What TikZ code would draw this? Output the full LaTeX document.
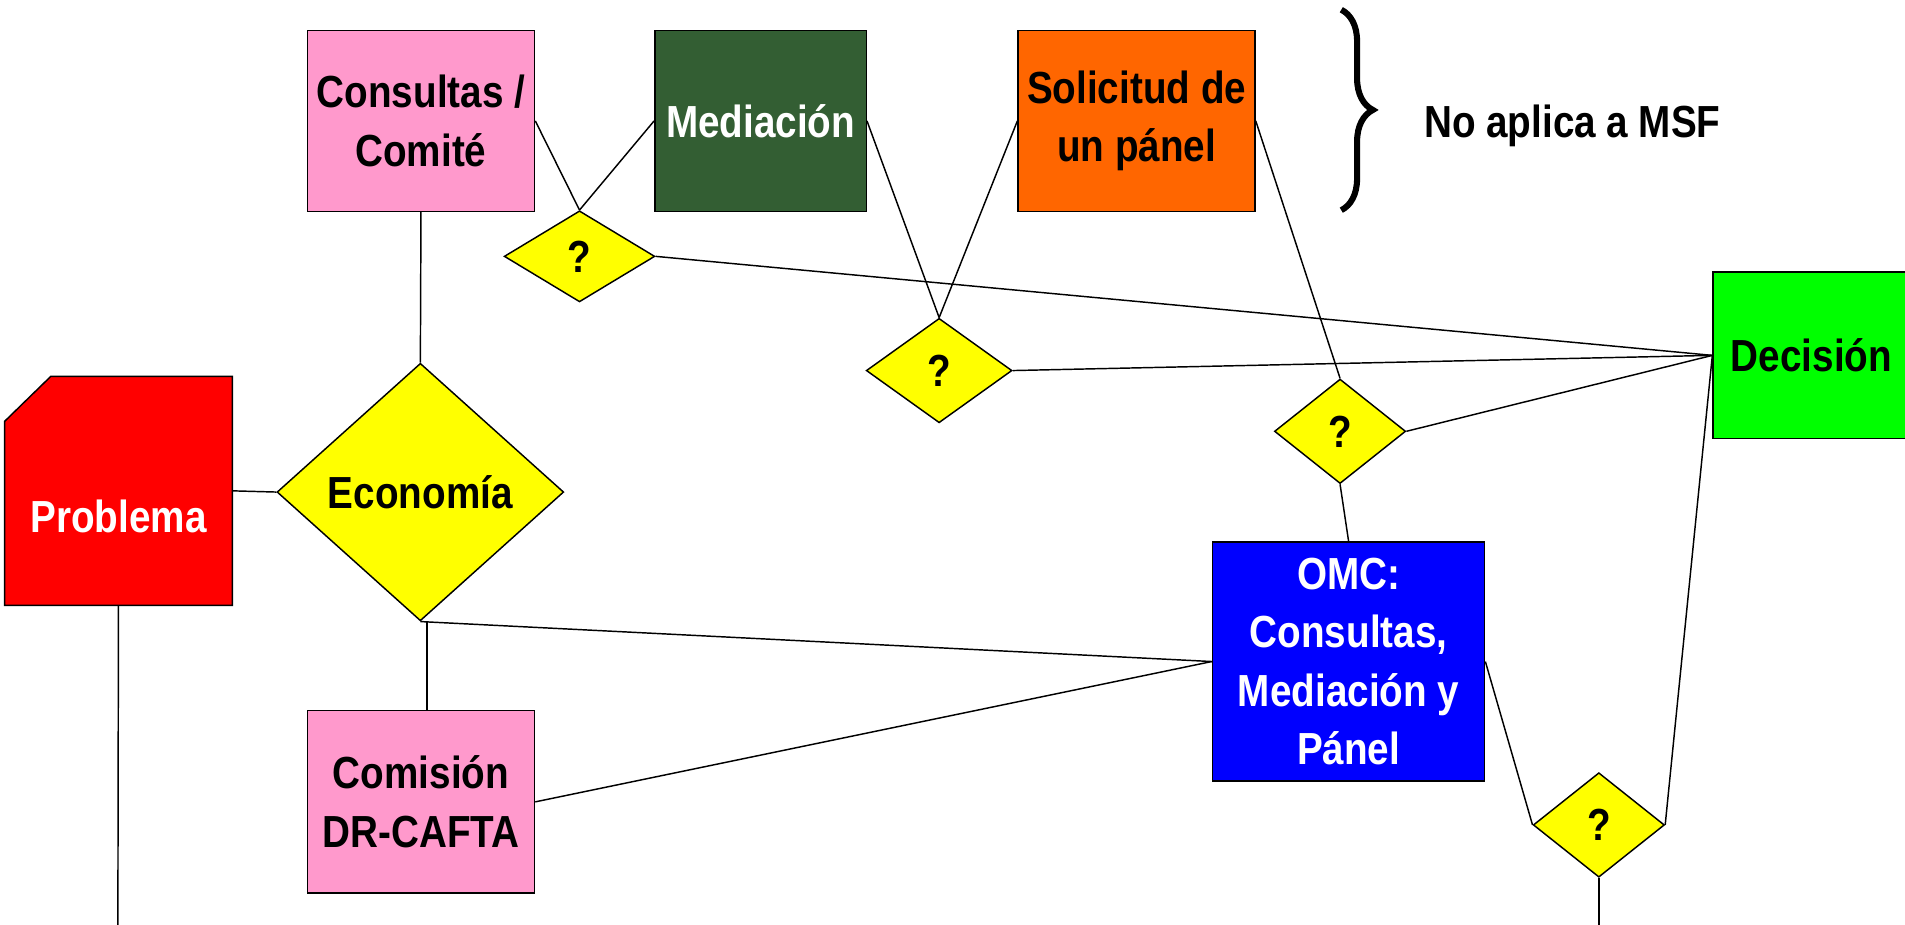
\documentclass[tikz,border=0pt]{standalone}
\usepackage{fontspec}
\setmainfont{Liberation Sans}[FakeStretch=0.86]
\usetikzlibrary{shapes.geometric,decorations.pathreplacing}
\definecolor{pinkbox}{RGB}{255,153,204}
\definecolor{darkgreen}{RGB}{51,94,51}
\definecolor{orangebox}{RGB}{255,102,0}
\definecolor{greenbox}{RGB}{0,255,0}
\definecolor{bluebox}{RGB}{0,0,255}
\definecolor{redbox}{RGB}{255,0,0}
\definecolor{yellowbox}{RGB}{255,255,0}
\begin{document}
\begin{tikzpicture}[x=1pt,y=-1pt,
  every node/.style={font=\fontsize{37}{48}\selectfont\bfseries, align=center, inner sep=0pt},
  box/.style={draw=black, line width=1.2pt, rectangle},
  qbox/.style={draw=black, line width=1.2pt, fill=yellowbox, diamond},
  conn/.style={line width=1.2pt}]
\useasboundingbox (0,0) rectangle (1568,761);

% boxes
\node[box, fill=pinkbox, minimum width=187pt, minimum height=149pt] (cons) at (346.5,99.5) {Consultas /\\Comité};
\node[box, fill=darkgreen, text=white, minimum width=174pt, minimum height=149pt] (med) at (626,99.5) {Mediación};
\node[box, fill=orangebox, minimum width=195pt, minimum height=149pt] (sol) at (935.5,99.5) {Solicitud de\\un pánel};
\node[box, fill=greenbox, minimum width=162pt, minimum height=137pt] (dec) at (1491,292.5) {Decisión};
\node[box, fill=bluebox, text=white, minimum width=224pt, minimum height=197pt] (omc) at (1110,544.5) {OMC:\\Consultas,\\Mediación y\\Pánel};
\node[box, fill=pinkbox, minimum width=187pt, minimum height=150pt] (com) at (346.5,660) {Comisión\\DR-CAFTA};

% problem box with cut corner
\node[minimum width=187pt, minimum height=188pt] (prob) at (97.5,404) {};
\filldraw[fill=redbox, line width=1.2pt] (prob.south west) -- (prob.south east) -- (prob.north east)
  -- ([xshift=38pt]prob.north west) -- ([yshift=-37pt]prob.north west) -- cycle;
\node[text=white] (problabel) at ([yshift=-21pt]prob.center) {Problema};

% diamonds
\node[qbox, minimum width=236pt, minimum height=212pt] (econ) at (346,405) {Economía};
\node[qbox, minimum width=124pt, minimum height=75pt] (q1) at (477,211) {?};
\node[qbox, minimum width=120pt, minimum height=86pt] (q2) at (773,305) {?};
\node[qbox, minimum width=108pt, minimum height=86pt] (q3) at (1103,355) {?};
\node[qbox, minimum width=108pt, minimum height=86pt] (q4) at (1316,679) {?};

% brace and note
\coordinate (bt) at (1104,8);
\coordinate (bb) at (1104,173);
\draw[line width=5pt, decorate, decoration={brace, amplitude=26pt}] (bt) -- (bb);
\node[anchor=base west] (msf) at (1172,113) {No aplica a MSF};

% connectors
\coordinate (probend) at (97,775);
\coordinate (q4end) at (1316,775);
\draw[conn] (cons.south) -- (econ.north);
\draw[conn] (prob.east) -- (econ.west);
\draw[conn] (prob.south) -- (probend);
\draw[conn] ([xshift=5.5pt]econ.south) -- ([xshift=5pt]com.north);
\draw[conn] (econ.south) -- (omc.west);
\draw[conn] (com.east) -- (omc.west);
\draw[conn] (cons.east) -- (q1.north);
\draw[conn] (med.west) -- (q1.north);
\draw[conn] (q1.east) -- (dec.west);
\draw[conn] (med.east) -- (q2.north);
\draw[conn] (sol.west) -- (q2.north);
\draw[conn] (q2.east) -- (dec.west);
\draw[conn] (sol.east) -- (q3.north);
\draw[conn] (q3.east) -- (dec.west);
\draw[conn] (q3.south) -- (omc.north);
\draw[conn] (omc.east) -- (q4.west);
\draw[conn] (q4.east) -- (dec.west);
\draw[conn] (q4.south) -- (q4end);
\end{tikzpicture}
\end{document}
